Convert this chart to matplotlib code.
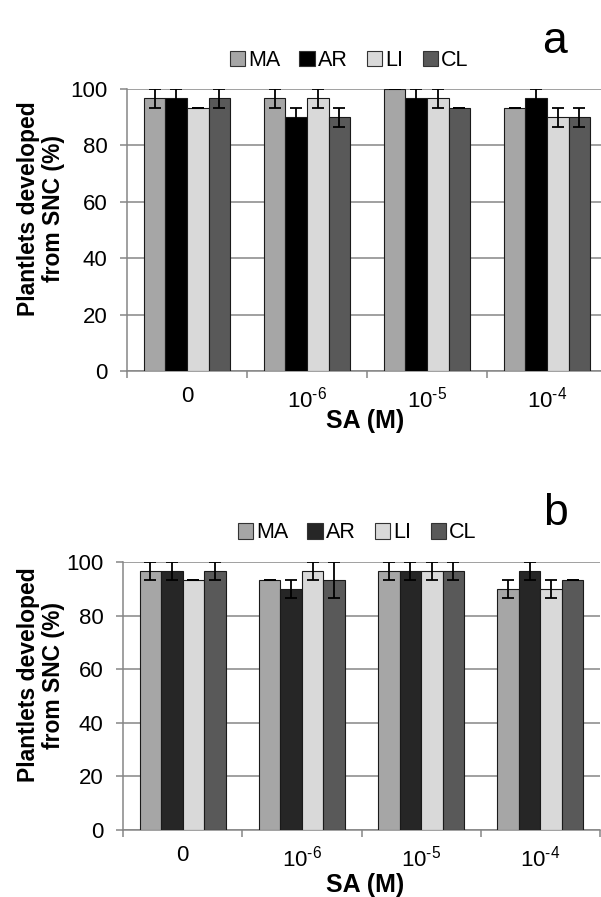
import matplotlib
matplotlib.use('Agg')
import matplotlib.pyplot as plt
import numpy as np
from matplotlib.patches import Patch

plt.rcParams['font.family'] = ['Liberation Sans', 'DejaVu Sans']
plt.rcParams['mathtext.fontset'] = 'custom'
plt.rcParams['mathtext.rm'] = 'Liberation Sans'
plt.rcParams['mathtext.it'] = 'Liberation Sans'
plt.rcParams['mathtext.bf'] = 'Liberation Sans:bold'

categories = ['0', r'10$^{\text{-6}}$', r'10$^{\text{-5}}$', r'10$^{\text{-4}}$']
series = ['MA', 'AR', 'LI', 'CL']

# panel a
a_vals = {
    'MA': [96.67, 96.67, 100.0, 93.33],
    'AR': [96.67, 90.0, 96.67, 96.67],
    'LI': [93.33, 96.67, 96.67, 90.0],
    'CL': [96.67, 90.0, 93.33, 90.0],
}
a_err = {
    'MA': [3.33, 3.33, 0, 0],
    'AR': [3.33, 3.33, 3.33, 3.33],
    'LI': [0, 3.33, 3.33, 3.33],
    'CL': [3.33, 3.33, 0, 3.33],
}
# panel b
b_vals = {
    'MA': [96.67, 93.33, 96.67, 90.0],
    'AR': [96.67, 90.0, 96.67, 96.67],
    'LI': [93.33, 96.67, 96.67, 90.0],
    'CL': [96.67, 93.33, 96.67, 93.33],
}
b_err = {
    'MA': [3.33, 0, 3.33, 3.33],
    'AR': [3.33, 3.33, 3.33, 3.33],
    'LI': [0, 3.33, 3.33, 3.33],
    'CL': [3.33, 6.67, 3.33, 0],
}

a_colors = ['#a6a6a6', '#000000', '#d9d9d9', '#595959']
b_colors = ['#a6a6a6', '#262626', '#d9d9d9', '#595959']

W, H = 601, 897
fig = plt.figure(figsize=(W / 100, H / 100), dpi=100)

grey = '#868686'


def draw_panel(rect, vals, errs, colors, letter, leg_xy, ylab_y, xlab_y):
    ax = fig.add_axes(rect)
    centers = np.arange(len(categories)) + 0.5
    bw = 0.18
    for i, s in enumerate(series):
        ax.bar(centers + (i - 1.5) * bw, vals[s], bw, yerr=errs[s],
               color=colors[i], edgecolor='#1a1a1a', linewidth=0.8,
               error_kw=dict(ecolor='black', elinewidth=1.3, capsize=4.5, capthick=1.3),
               zorder=3)
    ax.set_xlim(0, 4)
    ax.set_ylim(0, 100)
    ax.set_yticks(np.arange(0, 101, 20))
    ax.yaxis.grid(True, color=grey, linewidth=1.1, zorder=0)
    ax.set_axisbelow(True)
    for sp in ['top', 'right']:
        ax.spines[sp].set_visible(False)
    for sp in ['left', 'bottom']:
        ax.spines[sp].set_color(grey)
        ax.spines[sp].set_linewidth(1.1)
    ax.set_xticks(np.arange(0, 5))
    ax.set_xticklabels([])
    ax.set_xticks(centers, minor=True)
    ax.set_xticklabels(categories, minor=True)
    ax.tick_params(axis='x', which='major', length=5, color=grey, width=1.1, direction='out')
    ax.tick_params(axis='x', which='minor', length=0, labelsize=16, pad=11)
    ax.tick_params(axis='y', length=5, color=grey, width=1.1, labelsize=16, pad=9)

    fig.text(41 / W, ylab_y, 'Plantlets developed\nfrom SNC (%)', rotation=90,
             ha='center', va='center', fontsize=16.5, fontweight='bold', linespacing=1.1)
    fig.text(365 / W, xlab_y, 'SA (M)', ha='center', va='center',
             fontsize=18, fontweight='bold')
    fig.text(555 / W, leg_xy[1] + 0.022, letter, ha='center', va='center', fontsize=32)

    handles = [Patch(facecolor=c, edgecolor='#333333', linewidth=0.8) for c in colors]
    fig.legend(handles, series, loc='center', bbox_to_anchor=leg_xy, ncol=4,
               frameon=False, fontsize=15.5, handlelength=0.7, handleheight=0.7,
               handletextpad=0.15, columnspacing=0.9, borderpad=0)
    return ax


draw_panel([127 / W, 1 - 371 / H, 480 / W, 282 / H], a_vals, a_err, a_colors, 'a',
           (349 / W, 1 - 61 / H), 1 - 209 / H, 1 - 421 / H)
draw_panel([123 / W, 1 - 830 / H, 477 / W, 268 / H], b_vals, b_err, b_colors, 'b',
           (357 / W, 1 - 533 / H), 1 - 675 / H, 1 - 885 / H)

fig.savefig('out.png', dpi=100)
